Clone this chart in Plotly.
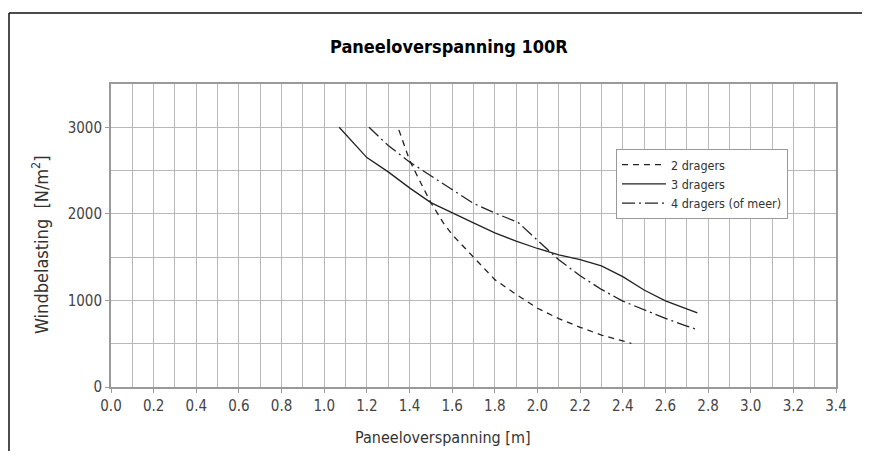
import plotly.graph_objects as go

# Data
x_2dragers = [1.35, 1.40, 1.45, 1.50, 1.56, 1.60, 1.70, 1.80, 1.90, 2.00, 2.10, 2.20, 2.30, 2.44]
y_2dragers = [2970, 2620, 2370, 2130, 1890, 1760, 1500, 1240, 1070, 910, 790, 690, 600, 505]

x_3dragers = [1.07, 1.20, 1.30, 1.40, 1.50, 1.60, 1.70, 1.80, 1.90, 2.00, 2.10, 2.20, 2.30, 2.40, 2.50, 2.60, 2.70, 2.75]
y_3dragers = [3000, 2650, 2485, 2300, 2130, 2010, 1895, 1780, 1685, 1600, 1525, 1470, 1400, 1275, 1120, 995, 905, 855]

x_4dragers = [1.21, 1.30, 1.40, 1.50, 1.60, 1.70, 1.80, 1.91, 2.00, 2.10, 2.20, 2.30, 2.40, 2.50, 2.60, 2.70, 2.75]
y_4dragers = [3000, 2790, 2600, 2440, 2270, 2120, 2010, 1900, 1695, 1470, 1285, 1127, 992, 888, 792, 704, 662]

series_names = ["2 dragers", "3 dragers", "4 dragers (of meer)"]
x_ticks = [round(0.2 * i, 1) for i in range(18)]
x_tick_labels = [f"{v:.1f}" for v in x_ticks]
y_ticks = [0, 1000, 2000, 3000]

FONT = "Liberation Sans Narrow, DejaVu Sans Condensed, Roboto, sans-serif"
LINE = "#222222"

fig = go.Figure()
fig.add_trace(go.Scatter(x=x_2dragers, y=y_2dragers, mode="lines", name=series_names[0],
                         line=dict(color=LINE, width=1.3, dash="6px,5px")))
fig.add_trace(go.Scatter(x=x_3dragers, y=y_3dragers, mode="lines", name=series_names[1],
                         line=dict(color=LINE, width=1.3)))
fig.add_trace(go.Scatter(x=x_4dragers, y=y_4dragers, mode="lines", name=series_names[2],
                         line=dict(color=LINE, width=1.3, dash="13px,4px,2px,4px")))

OFF = 8  # page offset of the figure inside the browser window
W, H = 870 - 2 * OFF, 459 - 2 * OFF
L, T = 111 - OFF, 84 - OFF
pw, ph = 725, 303
R, B = W - L - pw, H - T - ph

def px(x):
    return (x - OFF - L) / pw

def py(y):
    return (T + ph - (y - OFF)) / ph

border = dict(color="#111111", width=1.5)

fig.update_layout(
    width=W, height=H,
    margin=dict(l=L, r=R, t=T, b=B),
    paper_bgcolor="white", plot_bgcolor="white",
    font=dict(family=FONT, color="#333333", size=15),
    showlegend=True,
    legend=dict(x=px(616), y=py(149), xanchor="left", yanchor="top",
                bgcolor="white", bordercolor="#999999", borderwidth=1,
                font=dict(family=FONT, size=12.5, color="#333333"),
                tracegroupgap=0, itemwidth=44),
    xaxis=dict(range=[0, 3.4], tickvals=x_ticks, ticktext=x_tick_labels,
               showgrid=True, gridcolor="#b8b8b8", gridwidth=1,
               minor=dict(dtick=0.1, tick0=0, showgrid=True, gridcolor="#b8b8b8", gridwidth=1),
               showline=True, linecolor="#9a9a9a", linewidth=2, mirror=True,
               ticks="outside", ticklen=4, tickcolor="#9a9a9a",
               tickfont=dict(family=FONT, size=15, color="#444444"),
               zeroline=False, fixedrange=True),
    yaxis=dict(range=[0, 3500], tickvals=y_ticks,
               showgrid=True, gridcolor="#b8b8b8", gridwidth=1,
               minor=dict(dtick=500, tick0=0, showgrid=True, gridcolor="#b8b8b8", gridwidth=1),
               showline=True, linecolor="#9a9a9a", linewidth=2, mirror=True,
               ticks="outside", ticklen=4, tickcolor="#9a9a9a",
               tickfont=dict(family=FONT, size=15, color="#444444"),
               zeroline=False, fixedrange=True),
    shapes=[
        dict(type="line", xref="paper", yref="paper",
             x0=px(OFF + 1), x1=px(OFF + W), y0=py(13), y1=py(13), line=border, layer="below"),
        dict(type="line", xref="paper", yref="paper",
             x0=px(OFF + 1), x1=px(OFF + 1), y0=py(13), y1=py(OFF + H), line=border, layer="below"),
    ],
    annotations=[
        dict(text="<b>Paneeloverspanning 100R</b>", xref="paper", yref="paper",
             x=px(449), y=py(46), xanchor="center", yanchor="middle", showarrow=False,
             font=dict(family=FONT, size=18, color="#000000")),
        dict(text="Paneeloverspanning [m]", xref="paper", yref="paper",
             x=px(443), y=py(437), xanchor="center", yanchor="middle", showarrow=False,
             font=dict(family=FONT, size=16, color="#333333")),
        dict(text="Windbelasting  [N/m<sup>2</sup>]", xref="paper", yref="paper",
             x=px(40), y=py(245), xanchor="center", yanchor="middle", showarrow=False,
             textangle=-90, font=dict(family=FONT, size=18, color="#333333")),
    ],
)

fig.write_html("out.html")
